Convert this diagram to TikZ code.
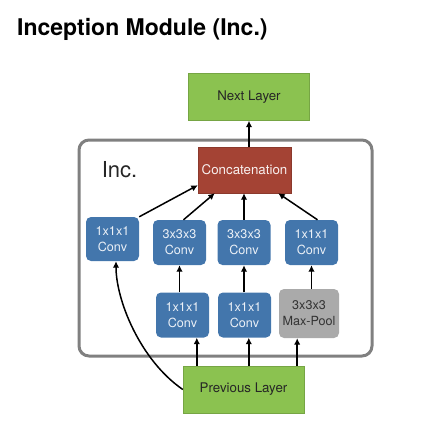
\documentclass[tikz,border=0pt]{standalone}
\usepackage{fontspec}
\setmainfont{TeX Gyre Heros}
\usepackage{xcolor}
\usepackage{tikz}
\usetikzlibrary{positioning, calc, arrows.meta}

\begin{document}
\begin{tikzpicture}[x=1pt, y=-1pt,
        layerbox/.style={fill=mygreen, draw=mygreen!85!black, line width=0.4pt, inner sep=0pt,
            minimum width=121pt, minimum height=47pt, text=black!85,
            font=\fontsize{13.3}{16}\selectfont},
        convbox/.style={fill=myblue, rounded corners=5pt, inner sep=0pt,
            minimum width=53pt, minimum height=45pt, text=white!90!myblue, align=center,
            font=\fontsize{12.6}{16}\selectfont},
        poolbox/.style={convbox, fill=mygray, text=black!80, minimum width=60pt, minimum height=49pt},
        arr/.style={-{Latex[length=6.5pt, width=6.5pt]}, line width=1.5pt, black}]
        % Định nghĩa màu sắc
        \definecolor{mygreen}{RGB}{139, 194, 80}
        \definecolor{myblue}{RGB}{67, 118, 172}
        \definecolor{myred}{RGB}{164, 67, 52}
        \definecolor{mygray}{RGB}{170, 170, 170}
        \definecolor{myframe}{RGB}{128, 128, 128}

        \useasboundingbox (0,0) rectangle (427,442);

        % Tiêu đề
        \node[anchor=base west, inner sep=0pt, font=\fontsize{23}{26}\selectfont\bfseries] (title) at (17,35) {Inception Module (Inc.)};

        % Khung module
        \draw[myframe, line width=3pt, rounded corners=10pt] (79,140) rectangle (372,356);
        \node[font=\fontsize{22}{24}\selectfont, text=black!85] (inc) at (119.5,170) {Inc.};

        % Các lớp vào / ra
        \node[layerbox] (next) at (249,97) {Next Layer};
        \node[layerbox] (prev) at (243.5,389.5) {Previous Layer};
        \node[fill=myred, draw=myred!85!black, line width=0.4pt, minimum width=93pt, minimum height=46pt, inner sep=0pt,
            text=white!92!myred, font=\fontsize{13.3}{16}\selectfont] (cat) at (244.5,170) {Concatenation};

        % 1. Hàng trên: các khối tích chập
        \node[convbox, minimum height=44pt] (b1) at (112.5,239) {1x1x1\\Conv};
        \foreach \name/\xx/\lbl in {b2/179.5/3x3x3, b3/244/3x3x3, b4/311.5/1x1x1} {
            \node[convbox] (\name) at (\xx,242.5) {\lbl\\Conv};
        }

        % 2. Hàng dưới
        \node[convbox] (a2) at (182.5,315) {1x1x1\\Conv};
        \node[convbox] (a3) at (244.5,315) {1x1x1\\Conv};
        \node[poolbox] (mp) at (309,313.5) {3x3x3\\Max-Pool};

        % 3. Mũi tên từ Previous Layer
        \draw[arr] (prev.west) .. controls (140,360) and (116,300) .. ([xshift=3.5pt]b1.south);
        \draw[arr] ([xshift=14pt]prev.north west) -- ([xshift=14pt]prev.north west |- a2.south);
        \draw[arr] ([xshift=66pt]prev.north west) -- ([xshift=66pt]prev.north west |- a3.south);
        \draw[arr] ([xshift=-7pt]prev.north east) -- ([xshift=-7pt]prev.north east |- mp.south);

        % Hàng dưới -> hàng trên
        \draw[arr] (a2.north -| b2) -- (b2.south);
        \draw[arr] (a3.north -| b3) -- (b3.south);
        \draw[arr] (mp.north -| b4) -- (b4.south);

        % Hàng trên -> Concatenation
        \draw[arr] (b1.north east) -- ([yshift=8pt]cat.south west);
        \draw[arr] ([xshift=4pt]b2.north) -- ([xshift=17pt]cat.south west);
        \draw[arr] (b3.north) -- (b3.north |- cat.south);
        \draw[arr] ([xshift=6pt]b4.north) -- ([xshift=-13pt]cat.south east);

        % Concatenation -> Next Layer
        \draw[arr] (cat.north -| next) -- (next.south);

    \end{tikzpicture}
\end{document}
